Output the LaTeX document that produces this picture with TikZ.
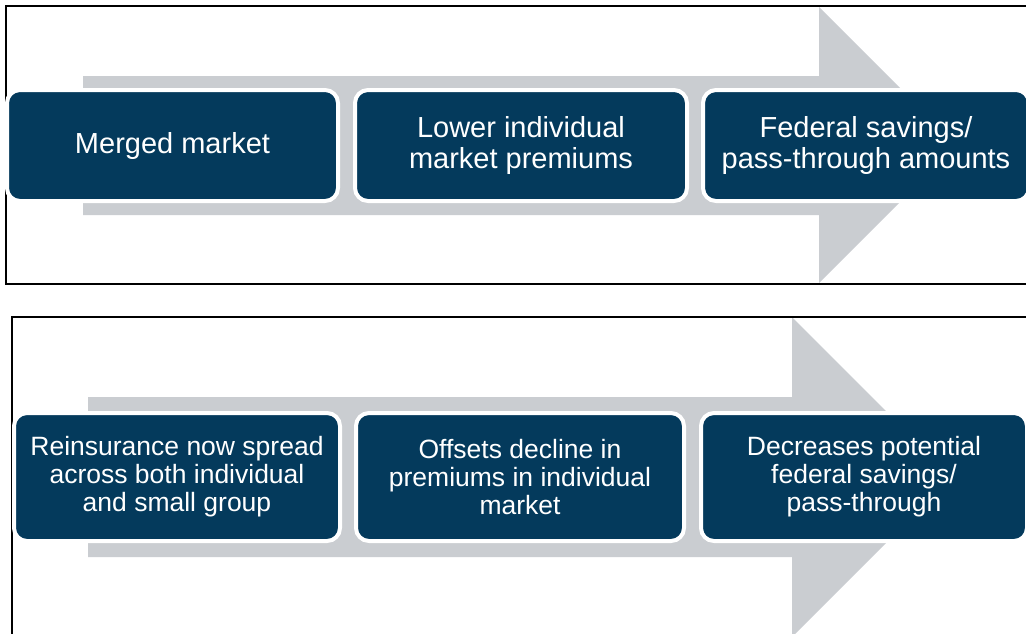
\documentclass[tikz,border=0pt]{standalone}
\usepackage{fontspec}
\setmainfont{Liberation Sans}
\usetikzlibrary{calc}
\definecolor{stagenavy}{RGB}{4,58,92}
\definecolor{shaftgray}{RGB}{202,205,209}

\begin{document}
\begin{tikzpicture}[x=1pt,y=-1pt,
  stage/.style={draw=white,line width=4pt,fill=stagenavy,rounded corners=13pt,
    text=white,align=center,inner sep=0pt,minimum height=111pt},
  bigtext/.style={font=\fontsize{29}{31}\selectfont},
  smalltext/.style={font=\fontsize{26.5}{28}\selectfont,minimum height=128pt},
  frame/.style={line width=1.5pt}]
  \useasboundingbox (0,0) rectangle (1026,633);
  \fill [white] (0,0) rectangle (1026,633);
  \coordinate (h1) at (819,145);
  \coordinate (h2) at (792,477);
  \fill [shaftgray] (83,76) -- ($ (h1)+(0,-69) $) -- ($ (h1)+(0,-138) $) -- ($ (h1)+(138,0) $)
    -- ($ (h1)+(0,138) $) -- ($ (h1)+(0,70) $) -- (83,215) -- cycle;
  \fill [shaftgray] (88,397) -- ($ (h2)+(0,-80) $) -- ($ (h2)+(0,-160) $) -- ($ (h2)+(160,0) $)
    -- ($ (h2)+(0,160) $) -- ($ (h2)+(0,80) $) -- (88,557) -- cycle;
  \draw [frame] (1030,6) -- (6,6) -- (6,284) -- (1030,284);
  \draw [frame] (1030,317) -- (12,317) -- (12,640);
  \node [stage,bigtext,minimum width=331pt] (s1) at (172.5,145.5) {Merged market};
  \node [stage,bigtext,minimum width=332pt] (s2) at (521,145.5) {Lower individual\\market premiums};
  \node [stage,bigtext,minimum width=326pt] (s3) at (866,145.5) {Federal savings/\\pass-through amounts};
  \node [stage,smalltext,minimum width=326pt] (t1) at (177,477) {Reinsurance now spread\\across both individual\\and small group};
  \node [stage,smalltext,minimum width=328pt] (t2) at (520,477) {Offsets decline in\\premiums in individual\\market};
  \node [stage,smalltext,minimum width=326pt] (t3) at (864,477) {Decreases potential\\federal savings/\\pass-through};
\end{tikzpicture}
\end{document}
